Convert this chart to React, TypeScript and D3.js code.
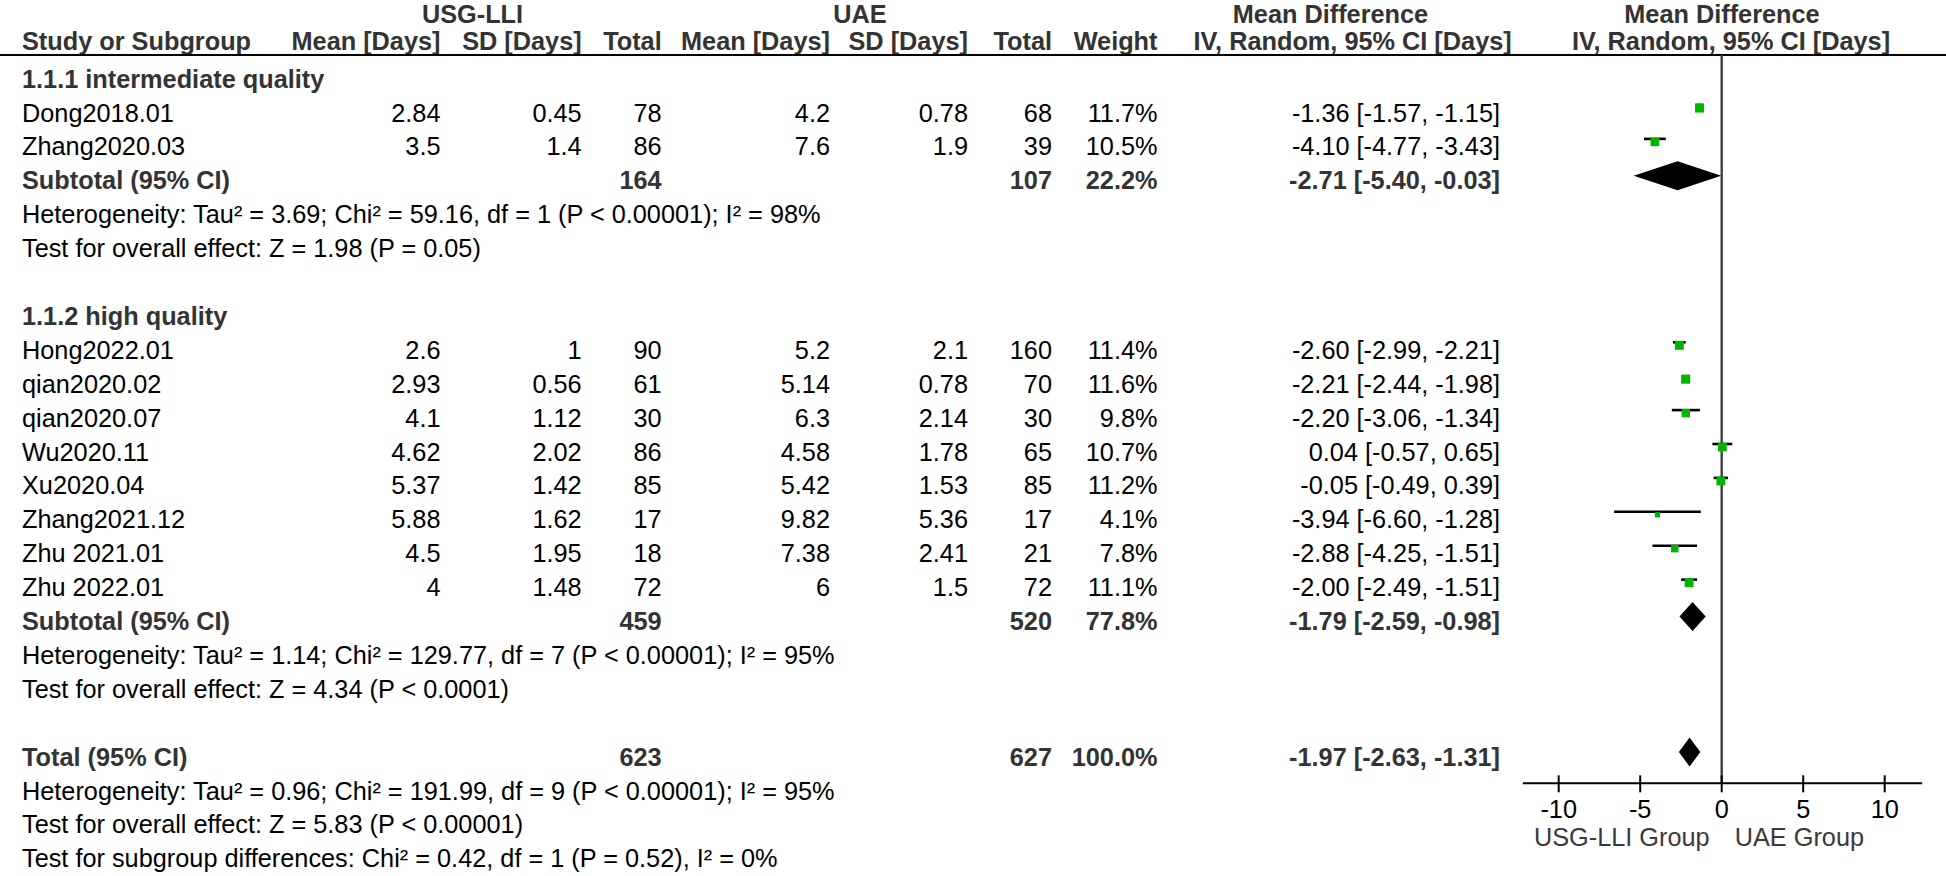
import React from "react";
import * as d3 from "d3";

// ---------- data ----------
const studies = ["Dong2018.01", "Zhang2020.03", "Hong2022.01", "qian2020.02", "qian2020.07", "Wu2020.11", "Xu2020.04", "Zhang2021.12", "Zhu 2021.01", "Zhu 2022.01"];
const subgroupOf = [1, 1, 2, 2, 2, 2, 2, 2, 2, 2];
const usgMean = ["2.84", "3.5", "2.6", "2.93", "4.1", "4.62", "5.37", "5.88", "4.5", "4"];
const usgSD = ["0.45", "1.4", "1", "0.56", "1.12", "2.02", "1.42", "1.62", "1.95", "1.48"];
const usgN = [78, 86, 90, 61, 30, 86, 85, 17, 18, 72];
const uaeMean = ["4.2", "7.6", "5.2", "5.14", "6.3", "4.58", "5.42", "9.82", "7.38", "6"];
const uaeSD = ["0.78", "1.9", "2.1", "0.78", "2.14", "1.78", "1.53", "5.36", "2.41", "1.5"];
const uaeN = [68, 39, 160, 70, 30, 65, 85, 17, 21, 72];
const weights = [11.7, 10.5, 11.4, 11.6, 9.8, 10.7, 11.2, 4.1, 7.8, 11.1];
const md = [-1.36, -4.10, -2.60, -2.21, -2.20, 0.04, -0.05, -3.94, -2.88, -2.00];
const ciLo = [-1.57, -4.77, -2.99, -2.44, -3.06, -0.57, -0.49, -6.60, -4.25, -2.49];
const ciHi = [-1.15, -3.43, -2.21, -1.98, -1.34, 0.65, 0.39, -1.28, -1.51, -1.51];

const subgroupTitles = ["1.1.1 intermediate quality", "1.1.2 high quality"];
const subUsgN = [164, 459];
const subUaeN = [107, 520];
const subWeight = ["22.2%", "77.8%"];
const subMd = [-2.71, -1.79];
const subLo = [-5.40, -2.59];
const subHi = [-0.03, -0.98];
const subHet = [
  "Heterogeneity: Tau² = 3.69; Chi² = 59.16, df = 1 (P < 0.00001); I² = 98%",
  "Heterogeneity: Tau² = 1.14; Chi² = 129.77, df = 7 (P < 0.00001); I² = 95%",
];
const subTest = [
  "Test for overall effect: Z = 1.98 (P = 0.05)",
  "Test for overall effect: Z = 4.34 (P < 0.0001)",
];

const totalUsgN = 623;
const totalUaeN = 627;
const totalWeight = "100.0%";
const totalMd = -1.97;
const totalLo = -2.63;
const totalHi = -1.31;
const totalNotes = [
  "Heterogeneity: Tau² = 0.96; Chi² = 191.99, df = 9 (P < 0.00001); I² = 95%",
  "Test for overall effect: Z = 5.83 (P < 0.00001)",
  "Test for subgroup differences: Chi² = 0.42, df = 1 (P = 0.52), I² = 0%",
];

const axisTicks = [-10, -5, 0, 5, 10];
const axisExtent = [-12.2, 12.3];
const favoursLeft = "USG-LLI Group";
const favoursRight = "UAE Group";

// ---------- layout ----------
const W = 1946;
const H = 876;
const FONT = "'Liberation Sans', Arial, Helvetica, sans-serif";
const FS = 25.3;
const BOLD_COLOR = "#333";
const GREEN = "#00b400";

const col = {
  name: 22,
  bold: 22,
  usgMean: 440.5,
  usgSD: 581.7,
  usgN: 661.7,
  uaeMean: 830,
  uaeSD: 968,
  uaeN: 1052,
  weight: 1157.5,
  ci: 1500,
};

const ROW0 = 108;
const PITCH = 33.9;
const rowY = (i: number) => ROW0 + i * PITCH;
const BASE = 13.5;

const x = d3.scaleLinear().domain([-10, 10]).range([1558.7, 1884.7]);
const axisY = 783.3;
const topLineY = 55;

const f2 = (v: number) => v.toFixed(2);
const fmtCI = (m: number, l: number, h: number) => `${f2(m)} [${f2(l)}, ${f2(h)}]`;

type Row =
  | { kind: "group"; i: number; title: string }
  | { kind: "study"; i: number; s: number }
  | { kind: "subtotal"; i: number; g: number }
  | { kind: "note"; i: number; text: string }
  | { kind: "total"; i: number };

function buildRows(): Row[] {
  const rows: Row[] = [];
  let i = -1;
  [1, 2].forEach((g, gi) => {
    rows.push({ kind: "group", i, title: subgroupTitles[gi] });
    i++;
    studies.forEach((_, s) => {
      if (subgroupOf[s] === g) {
        rows.push({ kind: "study", i, s });
        i++;
      }
    });
    rows.push({ kind: "subtotal", i, g: gi });
    i++;
    rows.push({ kind: "note", i, text: subHet[gi] });
    i++;
    rows.push({ kind: "note", i, text: subTest[gi] });
    i++;
    i++; // blank
  });
  rows.push({ kind: "total", i });
  i++;
  totalNotes.forEach((t) => {
    rows.push({ kind: "note", i, text: t });
    i++;
  });
  return rows;
}

const Txt = (p: { x: number; y: number; anchor?: string; bold?: boolean; fill?: string; children: any }) => (
  <text
    x={p.x}
    y={p.y}
    textAnchor={(p.anchor as any) || "start"}
    fontWeight={p.bold ? "bold" : "normal"}
    fill={p.fill || (p.bold ? BOLD_COLOR : "#000")}
  >
    {p.children}
  </text>
);

function Diamond({ m, l, h, y }: { m: number; l: number; h: number; y: number }) {
  const hh = 14.5;
  const path = d3.path();
  path.moveTo(x(l), y);
  path.lineTo(x(m), y - hh);
  path.lineTo(x(h), y);
  path.lineTo(x(m), y + hh);
  path.closePath();
  return <path d={path.toString()} fill="#000" />;
}

export default function App() {
  const rows = buildRows();
  const sizeScale = d3.scaleSqrt().domain([0, 100]).range([0, 26.5]);

  return (
    <svg width={W} height={H} style={{ position: "absolute", left: 0, top: 0, background: "#fff" }} fontFamily={FONT} fontSize={FS}>
      <rect x={0} y={0} width={W} height={H} fill="#fff" />
      {/* header row 1 */}
      <Txt x={472.5} y={22.5} anchor="middle" bold>USG-LLI</Txt>
      <Txt x={860} y={22.5} anchor="middle" bold>UAE</Txt>
      <Txt x={1330.5} y={22.5} anchor="middle" bold>Mean Difference</Txt>
      <Txt x={1722} y={22.5} anchor="middle" bold>Mean Difference</Txt>
      {/* header row 2 */}
      <Txt x={col.bold} y={50} bold>Study or Subgroup</Txt>
      <Txt x={col.usgMean} y={50} anchor="end" bold>Mean [Days]</Txt>
      <Txt x={col.usgSD} y={50} anchor="end" bold>SD [Days]</Txt>
      <Txt x={col.usgN} y={50} anchor="end" bold>Total</Txt>
      <Txt x={col.uaeMean} y={50} anchor="end" bold>Mean [Days]</Txt>
      <Txt x={col.uaeSD} y={50} anchor="end" bold>SD [Days]</Txt>
      <Txt x={col.uaeN} y={50} anchor="end" bold>Total</Txt>
      <Txt x={col.weight} y={50} anchor="end" bold>Weight</Txt>
      <Txt x={1511.7} y={50} anchor="end" bold>IV, Random, 95% CI [Days]</Txt>
      <Txt x={1731} y={50} anchor="middle" bold>IV, Random, 95% CI [Days]</Txt>
      <line x1={0} x2={W} y1={topLineY} y2={topLineY} stroke="#000" strokeWidth={2} />

      {/* zero line */}
      <line x1={x(0)} x2={x(0)} y1={topLineY} y2={axisY} stroke="#404040" strokeWidth={2.4} />

      {rows.map((r, k) => {
        const y = rowY(r.i);
        const by = y + BASE;
        if (r.kind === "group") {
          return <Txt key={k} x={col.name} y={by} bold>{r.title}</Txt>;
        }
        if (r.kind === "note") {
          return <Txt key={k} x={col.name} y={by}>{r.text}</Txt>;
        }
        if (r.kind === "study") {
          const s = r.s;
          const side = sizeScale(weights[s]);
          return (
            <g key={k}>
              <Txt x={col.name} y={by}>{studies[s]}</Txt>
              <Txt x={col.usgMean} y={by} anchor="end">{usgMean[s]}</Txt>
              <Txt x={col.usgSD} y={by} anchor="end">{usgSD[s]}</Txt>
              <Txt x={col.usgN} y={by} anchor="end">{usgN[s]}</Txt>
              <Txt x={col.uaeMean} y={by} anchor="end">{uaeMean[s]}</Txt>
              <Txt x={col.uaeSD} y={by} anchor="end">{uaeSD[s]}</Txt>
              <Txt x={col.uaeN} y={by} anchor="end">{uaeN[s]}</Txt>
              <Txt x={col.weight} y={by} anchor="end">{weights[s].toFixed(1) + "%"}</Txt>
              <Txt x={col.ci} y={by} anchor="end">{fmtCI(md[s], ciLo[s], ciHi[s])}</Txt>
              <line x1={x(ciLo[s])} x2={x(ciHi[s])} y1={y - 3} y2={y - 3} stroke="#000" strokeWidth={2.6} />
              <rect x={x(md[s]) - side / 2} y={y - side / 2} width={side} height={side} fill={GREEN} />
            </g>
          );
        }
        if (r.kind === "subtotal") {
          const g = r.g;
          return (
            <g key={k}>
              <Txt x={col.bold} y={by} bold>Subtotal (95% CI)</Txt>
              <Txt x={col.usgN} y={by} anchor="end" bold>{subUsgN[g]}</Txt>
              <Txt x={col.uaeN} y={by} anchor="end" bold>{subUaeN[g]}</Txt>
              <Txt x={col.weight} y={by} anchor="end" bold>{subWeight[g]}</Txt>
              <Txt x={col.ci} y={by} anchor="end" bold>{fmtCI(subMd[g], subLo[g], subHi[g])}</Txt>
              <Diamond m={subMd[g]} l={subLo[g]} h={subHi[g]} y={y} />
            </g>
          );
        }
        // total
        return (
          <g key={k}>
            <Txt x={col.bold} y={by} bold>Total (95% CI)</Txt>
            <Txt x={col.usgN} y={by} anchor="end" bold>{totalUsgN}</Txt>
            <Txt x={col.uaeN} y={by} anchor="end" bold>{totalUaeN}</Txt>
            <Txt x={col.weight} y={by} anchor="end" bold>{totalWeight}</Txt>
            <Txt x={col.ci} y={by} anchor="end" bold>{fmtCI(totalMd, totalLo, totalHi)}</Txt>
            <Diamond m={totalMd} l={totalLo} h={totalHi} y={y} />
          </g>
        );
      })}

      {/* axis */}
      <line x1={x(axisExtent[0])} x2={x(axisExtent[1])} y1={axisY} y2={axisY} stroke="#000" strokeWidth={2} />
      {axisTicks.map((t) => (
        <g key={t}>
          <line x1={x(t)} x2={x(t)} y1={axisY - 8} y2={axisY + 9} stroke="#000" strokeWidth={2} />
          <Txt x={x(t)} y={818} anchor="middle">{String(t)}</Txt>
        </g>
      ))}
      <Txt x={x(0) - 12} y={846} anchor="end" fill="#3a3a3a">{favoursLeft}</Txt>
      <Txt x={x(0) + 13} y={846} fill="#3a3a3a">{favoursRight}</Txt>
    </svg>
  );
}
